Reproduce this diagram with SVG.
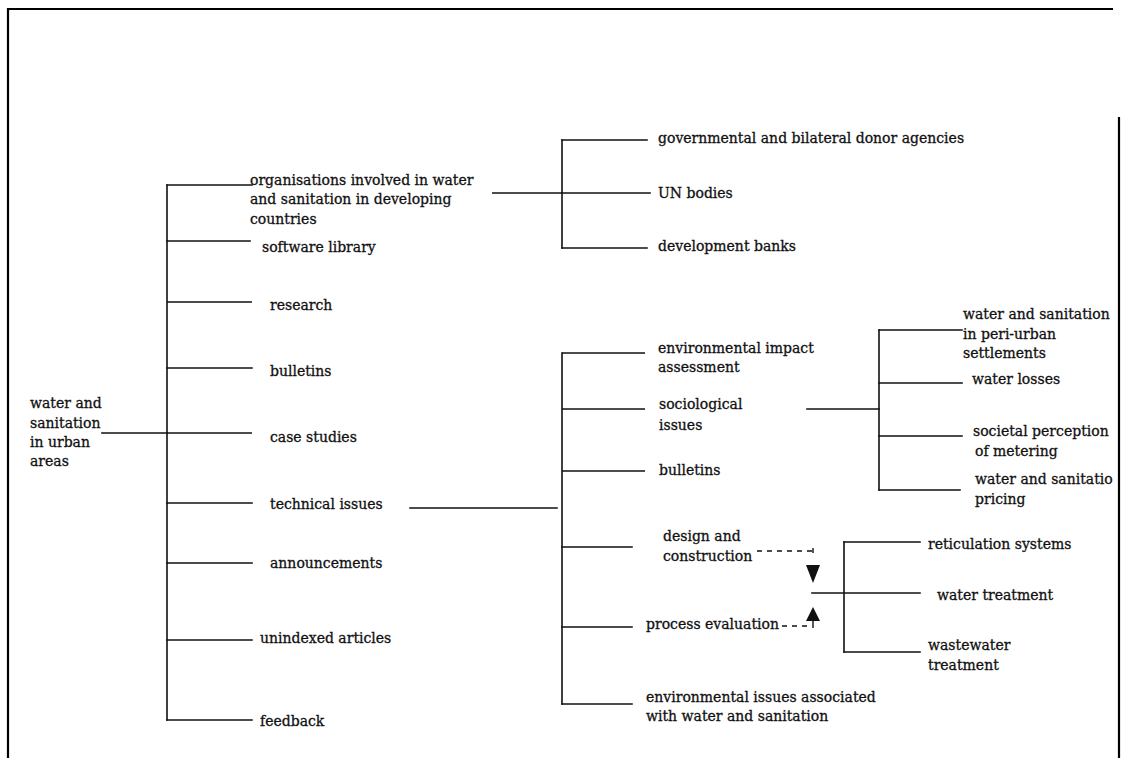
<svg xmlns="http://www.w3.org/2000/svg" width="1122" height="758" viewBox="0 0 1122 758">
<style>
text{font-family:"DejaVu Serif","Liberation Serif",serif;font-size:14px;fill:#111;stroke:#111;stroke-width:0.3}
.ln{stroke:#111;stroke-width:1.6;fill:none;stroke-linecap:square}
.th{stroke:#111;stroke-width:1.4;fill:none}
.ds{stroke:#111;stroke-width:1.4;fill:none;stroke-dasharray:5,5}
.fr{stroke:#000;stroke-width:2.2;fill:none}
</style>
<rect width="1122" height="758" fill="#fff"/>
<g id="frame">
<path class="fr" d="M8,758 V9 H1113"/>
<path class="fr" d="M1119,117 V758"/>
</g>
<g id="connectors">
<line class="ln" x1="102" y1="433" x2="167" y2="433"/>
<line class="ln" x1="167" y1="185" x2="167" y2="720"/>
<line class="ln" x1="167" y1="185" x2="252" y2="185"/>
<line class="ln" x1="167" y1="241" x2="250" y2="241"/>
<line class="th" x1="167" y1="302" x2="252" y2="302"/>
<line class="ln" x1="167" y1="368" x2="252" y2="368"/>
<line class="th" x1="167" y1="433" x2="252" y2="433"/>
<line class="ln" x1="167" y1="503" x2="252" y2="503"/>
<line class="ln" x1="167" y1="563" x2="252" y2="563"/>
<line class="ln" x1="167" y1="640" x2="252" y2="640"/>
<line class="ln" x1="167" y1="720" x2="252" y2="720"/>
<line class="th" x1="492" y1="193" x2="562" y2="193"/>
<line class="ln" x1="562" y1="140" x2="562" y2="248"/>
<line class="ln" x1="562" y1="140" x2="647" y2="140"/>
<line class="ln" x1="562" y1="193" x2="650" y2="193"/>
<line class="ln" x1="562" y1="248" x2="647" y2="248"/>
<line class="ln" x1="410" y1="508" x2="557" y2="508"/>
<line class="ln" x1="562" y1="353" x2="562" y2="704"/>
<line class="th" x1="562" y1="353" x2="645" y2="353"/>
<line class="th" x1="562" y1="409" x2="645" y2="409"/>
<line class="th" x1="562" y1="471" x2="645" y2="471"/>
<line class="ln" x1="562" y1="547" x2="632" y2="547"/>
<line class="ln" x1="562" y1="627" x2="632" y2="627"/>
<line class="ln" x1="562" y1="704" x2="632" y2="704"/>
<line class="ln" x1="807" y1="409" x2="879" y2="409"/>
<line class="ln" x1="879" y1="330" x2="879" y2="490"/>
<line class="ln" x1="879" y1="330" x2="962" y2="330"/>
<line class="ln" x1="879" y1="383" x2="962" y2="383"/>
<line class="ln" x1="879" y1="436" x2="962" y2="436"/>
<line class="ln" x1="879" y1="490" x2="960" y2="490"/>
<line class="ds" x1="757" y1="551" x2="812" y2="551"/>
<line class="th" x1="813" y1="548" x2="813" y2="553"/>
<polygon points="806,565 820,565 813,583" fill="#111"/>
<line class="ds" x1="782" y1="626" x2="812" y2="626"/>
<line class="th" x1="813" y1="620" x2="813" y2="628"/>
<polygon points="806,621 820,621 813,607" fill="#111"/>
<line class="ln" x1="812" y1="593" x2="920" y2="593"/>
<line class="ln" x1="844" y1="542" x2="844" y2="652"/>
<line class="ln" x1="844" y1="542" x2="920" y2="542"/>
<line class="ln" x1="844" y1="652" x2="920" y2="652"/>
</g>
<g id="root"><text x="30" y="408">water and</text><text x="30" y="428">sanitation</text><text x="30" y="447">in urban</text><text x="30" y="466">areas</text></g>
<g id="organisations"><text x="250" y="185">organisations involved in water</text><text x="250" y="204">and sanitation in developing</text><text x="250" y="224">countries</text></g>
<g id="software"><text x="262" y="252">software library</text></g>
<g id="research"><text x="270" y="310">research</text></g>
<g id="bulletins1"><text x="270" y="376">bulletins</text></g>
<g id="casestudies"><text x="270" y="442">case studies</text></g>
<g id="technical"><text x="270" y="509">technical issues</text></g>
<g id="announcements"><text x="270" y="568">announcements</text></g>
<g id="unindexed"><text x="260" y="643">unindexed articles</text></g>
<g id="feedback"><text x="260" y="726">feedback</text></g>
<g id="governmental"><text x="658" y="143">governmental and bilateral donor agencies</text></g>
<g id="un"><text x="658" y="198">UN bodies</text></g>
<g id="banks"><text x="658" y="251">development banks</text></g>
<g id="eia"><text x="658" y="353">environmental impact</text><text x="658" y="372">assessment</text></g>
<g id="sociological"><text x="659" y="409">sociological</text><text x="659" y="430">issues</text></g>
<g id="bulletins2"><text x="659" y="475">bulletins</text></g>
<g id="design"><text x="663" y="541">design and</text><text x="663" y="561">construction</text></g>
<g id="process"><text x="646" y="629">process evaluation</text></g>
<g id="envissues"><text x="646" y="702">environmental issues associated</text><text x="646" y="721">with water and sanitation</text></g>
<g id="periurban"><text x="963" y="319">water and sanitation</text><text x="963" y="339">in peri-urban</text><text x="963" y="358">settlements</text></g>
<g id="losses"><text x="972" y="384">water losses</text></g>
<g id="metering"><text x="973" y="436">societal perception</text><text x="975" y="456">of metering</text></g>
<g id="pricing"><text x="975" y="484">water and sanitatio</text><text x="975" y="504">pricing</text></g>
<g id="reticulation"><text x="928" y="549">reticulation systems</text></g>
<g id="watertreatment"><text x="937" y="600">water treatment</text></g>
<g id="wastewater"><text x="928" y="650">wastewater</text><text x="928" y="670">treatment</text></g>
</svg>
